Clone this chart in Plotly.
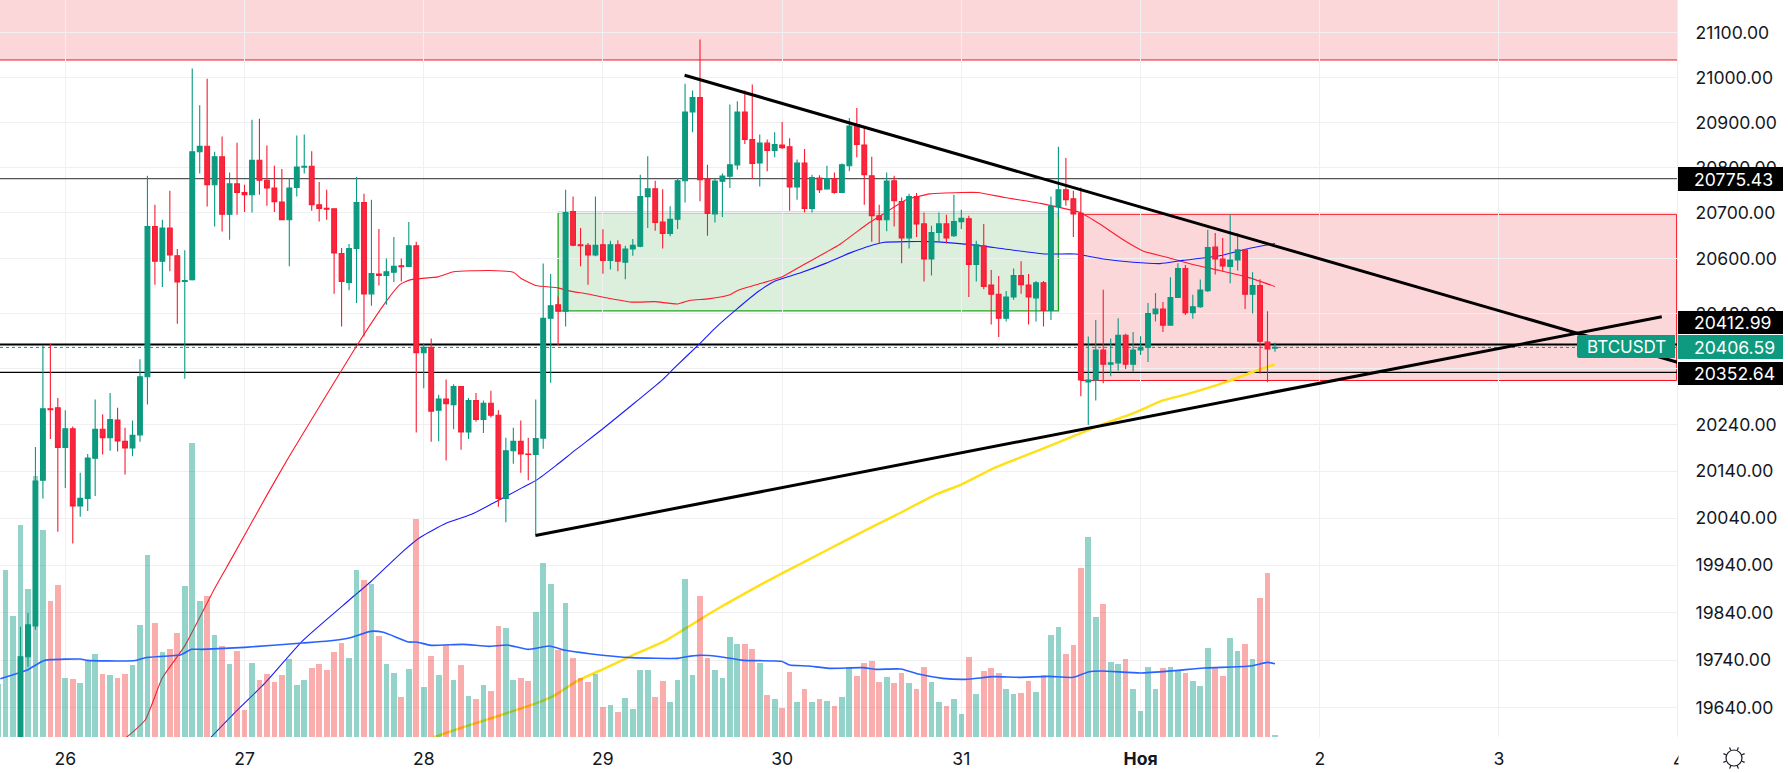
import math
from datetime import datetime, timedelta
import plotly.graph_objects as go

BASE = datetime(2022, 10, 26)

opens = [19560,19747,19812,20121,20274,20276,20191,20231,20066,20082,20168,20230,20212,20250,20204,20190,20218,20343,20670,20594,20667,20606,20550,20554,20835,20847,20762,20824,20697,20764,20745,20740,20816,20772,20755,20724,20685,20756,20801,20803,20718,20710,20709,20611,20548,20622,20723,20523,20566,20563,20570,20584,20583,20628,20395,20407,20271,20295,20283,20322,20224,20292,20251,20286,20260,20082,20184,20204,20177,20176,20211,20470,20499,20485,20703,20630,20629,20608,20630,20596,20630,20592,20621,20627,20736,20753,20680,20655,20686,20771,20923,20955,20775,20698,20770,20781,20806,20923,20862,20810,20854,20838,20850,20846,20757,20810,20710,20777,20753,20775,20745,20804,20895,20850,20782,20694,20685,20771,20725,20645,20736,20676,20599,20657,20676,20650,20681,20687,20587,20628,20542,20522,20470,20516,20563,20542,20514,20547,20487,20714,20751,20731,20699,20332,20336,20401,20370,20373,20433,20370,20401,20407,20480,20490,20455,20515,20578,20482,20495,20530,20625,20599,20583,20597,20619,20522,20541,20418,20405]
highs = [19810,19839,20192,20412,20414,20297,20271,20236,20137,20177,20294,20262,20308,20276,20233,20249,20381,20782,20718,20685,20749,20621,20618,21020,20938,20997,20835,20869,20789,20855,20762,20906,20908,20849,20804,20797,20775,20871,20873,20836,20768,20751,20709,20623,20632,20779,20742,20729,20665,20600,20647,20600,20680,20637,20414,20426,20304,20337,20327,20323,20297,20308,20292,20313,20271,20212,20233,20249,20212,20294,20589,20566,20517,20751,20736,20667,20634,20736,20664,20639,20640,20628,20643,20784,20825,20771,20752,20715,20777,20986,20971,21085,20806,20775,20787,20940,20947,20971,20984,20873,20862,20878,20901,20865,20818,20841,20784,20783,20804,20789,20809,20910,20932,20889,20824,20718,20789,20782,20734,20742,20744,20701,20672,20701,20696,20740,20707,20694,20639,20676,20575,20562,20529,20578,20594,20566,20551,20551,20736,20846,20821,20749,20756,20430,20466,20532,20426,20470,20436,20440,20431,20503,20525,20505,20559,20590,20586,20521,20554,20663,20656,20645,20697,20655,20621,20570,20555,20485,20417]
lows = [19550,19726,19804,20082,20209,20011,20104,19986,20043,20055,20087,20176,20184,20182,20133,20172,20203,20283,20543,20538,20572,20458,20339,20552,20787,20714,20670,20659,20641,20696,20702,20701,20740,20716,20702,20685,20583,20736,20787,20705,20681,20685,20523,20452,20531,20503,20430,20497,20541,20499,20549,20550,20583,20223,20318,20203,20204,20163,20230,20186,20209,20246,20222,20255,20064,20031,20156,20137,20121,20005,20188,20330,20412,20452,20627,20583,20543,20605,20567,20576,20572,20555,20606,20625,20667,20661,20622,20649,20665,20723,20878,20726,20650,20679,20691,20755,20795,20852,20775,20758,20792,20823,20841,20705,20729,20701,20701,20744,20751,20742,20744,20792,20823,20718,20637,20633,20660,20670,20590,20622,20647,20550,20563,20637,20633,20647,20665,20516,20550,20533,20456,20429,20463,20510,20523,20456,20463,20452,20466,20689,20716,20647,20301,20239,20292,20329,20344,20356,20360,20354,20390,20375,20463,20440,20455,20514,20477,20469,20492,20527,20565,20572,20546,20574,20490,20480,20350,20331,20397]
closes = [19747,19814,20119,20274,20272,20191,20231,20066,20082,20168,20230,20212,20251,20205,20190,20217,20343,20670,20594,20667,20608,20549,20552,20835,20847,20762,20824,20697,20764,20745,20740,20816,20772,20755,20725,20685,20755,20801,20803,20718,20710,20708,20612,20550,20622,20723,20523,20567,20563,20571,20583,20582,20628,20395,20407,20269,20295,20285,20322,20224,20292,20251,20286,20260,20082,20184,20204,20177,20176,20210,20470,20497,20485,20701,20629,20628,20608,20629,20596,20630,20594,20621,20629,20736,20753,20679,20655,20686,20771,20923,20955,20773,20699,20770,20781,20806,20923,20862,20809,20854,20838,20851,20844,20757,20810,20710,20778,20751,20776,20745,20806,20892,20851,20784,20694,20685,20770,20727,20645,20736,20676,20599,20657,20676,20645,20681,20688,20587,20630,20539,20522,20470,20516,20563,20543,20516,20547,20487,20714,20751,20729,20698,20336,20336,20401,20370,20373,20433,20370,20401,20407,20480,20490,20455,20515,20578,20482,20495,20531,20624,20599,20584,20597,20619,20522,20541,20420,20403,20406.59]
candle_start_hour = -6

volumes = [160,502,362,635,445,782,620,407,455,177,173,162,230,248,188,185,177,190,215,336,545,342,255,265,312,452,882,407,423,305,272,220,257,82,223,170,190,165,185,235,155,172,208,220,200,255,283,238,500,472,458,302,220,192,120,205,655,150,244,185,275,172,217,122,113,155,137,334,327,172,177,168,374,523,460,262,403,238,177,165,190,90,95,74,118,83,200,201,121,169,104,171,474,186,423,236,201,176,299,278,278,263,221,125,114,88,195,105,144,105,114,108,93,121,209,183,221,228,164,180,162,193,162,144,209,165,105,94,114,69,241,128,198,207,191,143,128,131,169,134,186,306,330,249,276,506,599,359,399,224,219,233,144,78,210,143,207,209,198,193,169,154,266,206,183,296,259,278,234,418,493,6]
volume_start_hour = -9

red_ma_hours = [8.2,10.7,13,16,20,22.3,27,30,38.4,43,44.8,46.3,49.9,52,56.8,60,61,63,66,67.3,69.8,75.8,78.9,82,83.7,86.1,89,90.1,92.8,96.1,98.5,103.8,107.6,109.5,112.6,115.8,120,122.2,125.8,130.6,133.7,135.9,138.6,141.3,144.4,147.5,151,154.6,158.2,162]
red_ma = [19579,19615,19703,19770,19891,19955,20089,20172,20394,20507,20543,20554,20560,20571,20574,20570,20557,20541,20536,20530,20523,20505,20506,20501,20509,20512,20521,20531,20544,20561,20583,20632,20678,20697,20729,20742,20745,20745,20734,20721,20710,20701,20675,20645,20616,20603,20587,20574,20560,20539]
blue_ma_hours = [19.5,22.8,26.8,31.8,38,40.9,45.4,47.6,51,54.4,57.2,61.2,63.1,65.7,68.2,71.9,80,81.5,85.1,87,89.8,92.8,95.2,98.3,101.9,105.2,109.5,115.7,121.5,125.8,131.3,135.3,139,143,146.6,149.7,154.6,158.2,162]
blue_ma = [19579,19632,19693,19781,19866,19905,19972,20000,20029,20048,20071,20105,20121,20152,20184,20230,20337,20361,20417,20448,20488,20528,20552,20568,20590,20613,20635,20637,20630,20621,20610,20610,20599,20592,20589,20596,20606,20621,20633]
yellow_ma_hours = [49.3,53.3,58.3,63.1,65.7,68.5,72.4,75.8,80.4,82.6,86.3,88.8,93,95.9,101.5,106.4,111.3,116.7,119.9,124.3,131,135.9,138.6,143,147,150.1,155.5,159.1,162]
yellow_ma = [19579,19600,19625,19650,19668,19696,19724,19749,19781,19802,19838,19861,19898,19922,19968,20008,20047,20091,20111,20146,20189,20221,20239,20264,20292,20305,20332,20354,20370]
vol_ma_hours = [-8.7,-7,-5,-3,-2,2,3,8.2,9.6,10.7,15.5,16.9,18.3,24,31.8,35.2,38,40.9,42.6,46,47,49,53.3,56.7,59.2,62,64.8,67,70.2,75.8,82,83.2,84.9,87.7,90.8,95.9,97,99.5,102.3,106.8,108.5,111.9,114.4,117.5,120.6,124.3,127.7,131.6,135,137,138.7,144,148.5,152.5,158.7,161,162]
vol_ma = [175,187,202,228,232,234,230,228,230,238,247,263,263,269,282,288,297,317,314,285,285,275,278,272,276,263,273,260,250,238,236,241,245,241,230,227,216,213,206,208,203,204,188,176,173,181,179,182,179,195,198,192,199,207,213,224,220]

trend_down_hours = [82.94, 216]
trend_down_prices = [21005, 20374]
trend_up_hours = [62.96, 213.8]
trend_up_prices = [20003, 20473]

level_top = 20775.43
level_mid = 20412.99
level_low = 20352.64
last_price = 20406.59
resist_bottom = 21039
green_box = {"h0": 66, "h1": 133, "p0": 20486, "p1": 20701}
red_box = {"h0": 136, "p0": 20335, "p1": 20697}

price_ticks = [21100,21000,20900,20800,20700,20600,20480,20360,20240,20140,20040,19940,19840,19740,19640]
price_tick_text = [f"{v}.00" for v in price_ticks]
day_ticks = [0,24,48,72,96,120,144,168,192]
day_text = ["26","27","28","29","30","31","<b>Ноя</b>","2","3"]

W, H = 1788, 773
PW, PH = 1677, 737
P_TOP, P_BOT = 21173.4, 19579.6
H_LEFT, H_RIGHT = -8.745, 215.84
FONT = "Inter"
FS = 17.6
TXT = "#131722"
UP, DOWN = "#0e9a7e", "#f6283f"
GRID = "#f0f0f2"
RED_EDGE = "#f8101f"

def T(h):
    return BASE + timedelta(hours=h)
def hrs(lst):
    return [T(h) for h in lst]
def px(x):
    return x / PW
def py(y):
    return 1 - y / PH

fig = go.Figure()

# horizontal levels
def hline(p, width, color, dash="solid"):
    fig.add_trace(go.Scatter(x=[T(H_LEFT), T(H_RIGHT)], y=[p, p], mode="lines",
                             line=dict(color=color, width=width, dash=dash), yaxis="y", hoverinfo="skip"))
hline(level_top, 1.2, "#555555")
hline(level_mid, 2, "#000000")
hline(level_low, 1.2, "#000000")
hline(last_price, 1, "#089981", "dot")

# price MAs on the lowest layer (price axis y)
SPL = dict(shape="spline", smoothing=0.5)
fig.add_trace(go.Scatter(x=hrs(red_ma_hours), y=red_ma, mode="lines", line=dict(color="#ff1a2e", width=1.1, **SPL), yaxis="y", hoverinfo="skip"))
fig.add_trace(go.Scatter(x=hrs(blue_ma_hours), y=blue_ma, mode="lines", line=dict(color="#1a1aff", width=1.1, **SPL), yaxis="y", hoverinfo="skip"))
fig.add_trace(go.Scatter(x=hrs(yellow_ma_hours), y=yellow_ma, mode="lines", line=dict(color="#ffe01a", width=2.5, **SPL), yaxis="y", hoverinfo="skip"))

# volume
vol_hours = [volume_start_hour + i for i in range(len(volumes))]
up_flags = [True] * (candle_start_hour - volume_start_hour) + [c >= o for o, c in zip(opens, closes)]
vol_colors = ["rgba(8,153,129,0.43)" if u else "rgba(242,40,40,0.38)" for u in up_flags]
fig.add_trace(go.Bar(x=hrs(vol_hours), y=volumes, marker=dict(color=vol_colors, line=dict(width=0)), width=2750000, yaxis="y2", hoverinfo="skip"))
fig.add_trace(go.Scatter(x=hrs(vol_ma_hours), y=vol_ma, mode="lines", line=dict(color="#2962ff", width=1.6, **SPL), yaxis="y2", hoverinfo="skip"))

# candles
candle_hours = [candle_start_hour + i for i in range(len(opens))]
fig.add_trace(go.Candlestick(
    x=hrs(candle_hours), open=opens, high=highs, low=lows, close=closes, yaxis="y3",
    increasing=dict(fillcolor=UP, line=dict(color="#089981", width=1.1)),
    decreasing=dict(fillcolor=DOWN, line=dict(color="#fb1a30", width=1.1)),
    hoverinfo="skip"))

# trend lines
fig.add_trace(go.Scatter(x=hrs(trend_down_hours), y=trend_down_prices, mode="lines", line=dict(color="#000", width=3), yaxis="y3", hoverinfo="skip"))
fig.add_trace(go.Scatter(x=hrs(trend_up_hours), y=trend_up_prices, mode="lines", line=dict(color="#000", width=3), yaxis="y3", hoverinfo="skip"))

shapes = []
def zone(h0, h1, p0, p1, fill, border, bw=1):
    shapes.append(dict(type="rect", xref="x", yref="y", x0=T(h0), x1=T(h1), y0=p0, y1=p1,
                       fillcolor=fill, line=dict(color=border, width=bw), layer="below"))
zone(H_LEFT - 2, H_RIGHT + 2, resist_bottom, P_TOP * 1.002, "#fcd7da", RED_EDGE)
zone(green_box["h0"], green_box["h1"], green_box["p0"], green_box["p1"], "#dbefdc", "#1ea51e", 1.3)
zone(red_box["h0"], H_RIGHT - 0.05, red_box["p0"], red_box["p1"], "#fcd7da", RED_EDGE)

annotations = []
def price_box(y0, y1, text, fill):
    shapes.append(dict(type="rect", xref="paper", yref="paper", x0=px(1678), x1=px(1783), y0=py(y1), y1=py(y0),
                       fillcolor=fill, line=dict(width=0), layer="above"))
    annotations.append(dict(xref="paper", yref="paper", x=px(1692), y=py((y0 + y1) / 2), xanchor="left", yanchor="middle",
                            text=text, showarrow=False, font=dict(family=FONT, size=FS, color="#ffffff")))
price_box(167, 191, f"{level_top:.2f}", "#000000")
price_box(311, 334, f"{level_mid:.2f}", "#000000")
price_box(335, 359, f"{last_price:.2f}", "#0e9a7e")
price_box(362, 385, f"{level_low:.2f}", "#000000")

# symbol tag
shapes.append(dict(type="path", xref="paper", yref="paper", layer="above", fillcolor="#0e9a7e", line=dict(width=0),
    path=f"M {px(1579)} {py(335)} L {px(1675)} {py(335)} L {px(1675)} {py(358)} L {px(1579)} {py(358)} Q {px(1577)} {py(358)} {px(1577)} {py(356)} L {px(1577)} {py(337)} Q {px(1577)} {py(335)} {px(1579)} {py(335)} Z"))
annotations.append(dict(xref="paper", yref="paper", x=px(1626), y=py(346.5), xanchor="center", yanchor="middle",
                        text="BTCUSDT", showarrow=False, font=dict(family=FONT, size=17, color="#ffffff")))

# clipped "4" date label
annotations.append(dict(xref="paper", yref="paper", x=px(1678), y=py(760), xanchor="center", yanchor="middle",
                        text="4", showarrow=False, font=dict(family=FONT, size=FS, color=TXT)))
annotations.append(dict(xref="paper", yref="paper", x=px(1677.5), y=py(760), xanchor="left", yanchor="middle",
                        text=" ", showarrow=False, bgcolor="#ffffff", width=16, height=24, borderpad=0))

# sun icon
cx, cy, r = 1734, 758, 8
shapes.append(dict(type="circle", xref="paper", yref="paper", x0=px(cx - r), x1=px(cx + r), y0=py(cy + r), y1=py(cy - r),
                   line=dict(color=TXT, width=1.2), layer="above"))
for k in range(8):
    a = k * math.pi / 4 + math.pi / 8
    shapes.append(dict(type="line", xref="paper", yref="paper", layer="above", line=dict(color=TXT, width=1.2),
                       x0=px(cx + (r + 0.5) * math.cos(a)), y0=py(cy + (r + 0.5) * math.sin(a)),
                       x1=px(cx + (r + 3.5) * math.cos(a)), y1=py(cy + (r + 3.5) * math.sin(a))))

log_range = [math.log10(P_BOT), math.log10(P_TOP)]

fig.update_layout(
    width=W, height=H, autosize=False,
    margin=dict(l=0, r=W - PW, t=0, b=H - PH, pad=0),
    paper_bgcolor="#ffffff", plot_bgcolor="#ffffff",
    showlegend=False, boxgap=0.36, boxgroupgap=0, bargap=0,
    font=dict(family=FONT, size=FS, color=TXT),
    shapes=shapes, annotations=annotations,
    xaxis=dict(type="date", range=[T(H_LEFT), T(H_RIGHT)], tickmode="array",
               tickvals=hrs(day_ticks), ticktext=day_text, showgrid=True, gridcolor=GRID, gridwidth=1,
               zeroline=False, showline=False, ticks="", ticklabelstandoff=9, rangeslider=dict(visible=False),
               tickfont=dict(family=FONT, size=FS, color=TXT)),
    yaxis=dict(type="log", range=log_range, side="right", tickmode="array", tickvals=price_ticks, ticktext=price_tick_text,
               showgrid=True, gridcolor=GRID, gridwidth=1, zeroline=False, showline=True, linecolor="#eeeeee", linewidth=1,
               ticks="", ticklabelstandoff=14, tickfont=dict(family=FONT, size=FS, color=TXT)),
    yaxis2=dict(overlaying="y", range=[0, 2211], visible=False, showgrid=False, zeroline=False),
    yaxis3=dict(overlaying="y", type="log", range=log_range, visible=False, showgrid=False, zeroline=False),
)

fig.write_html("out.html", config={"displayModeBar": False},
               post_script="document.body.style.margin='0';document.body.style.overflow='hidden';")
